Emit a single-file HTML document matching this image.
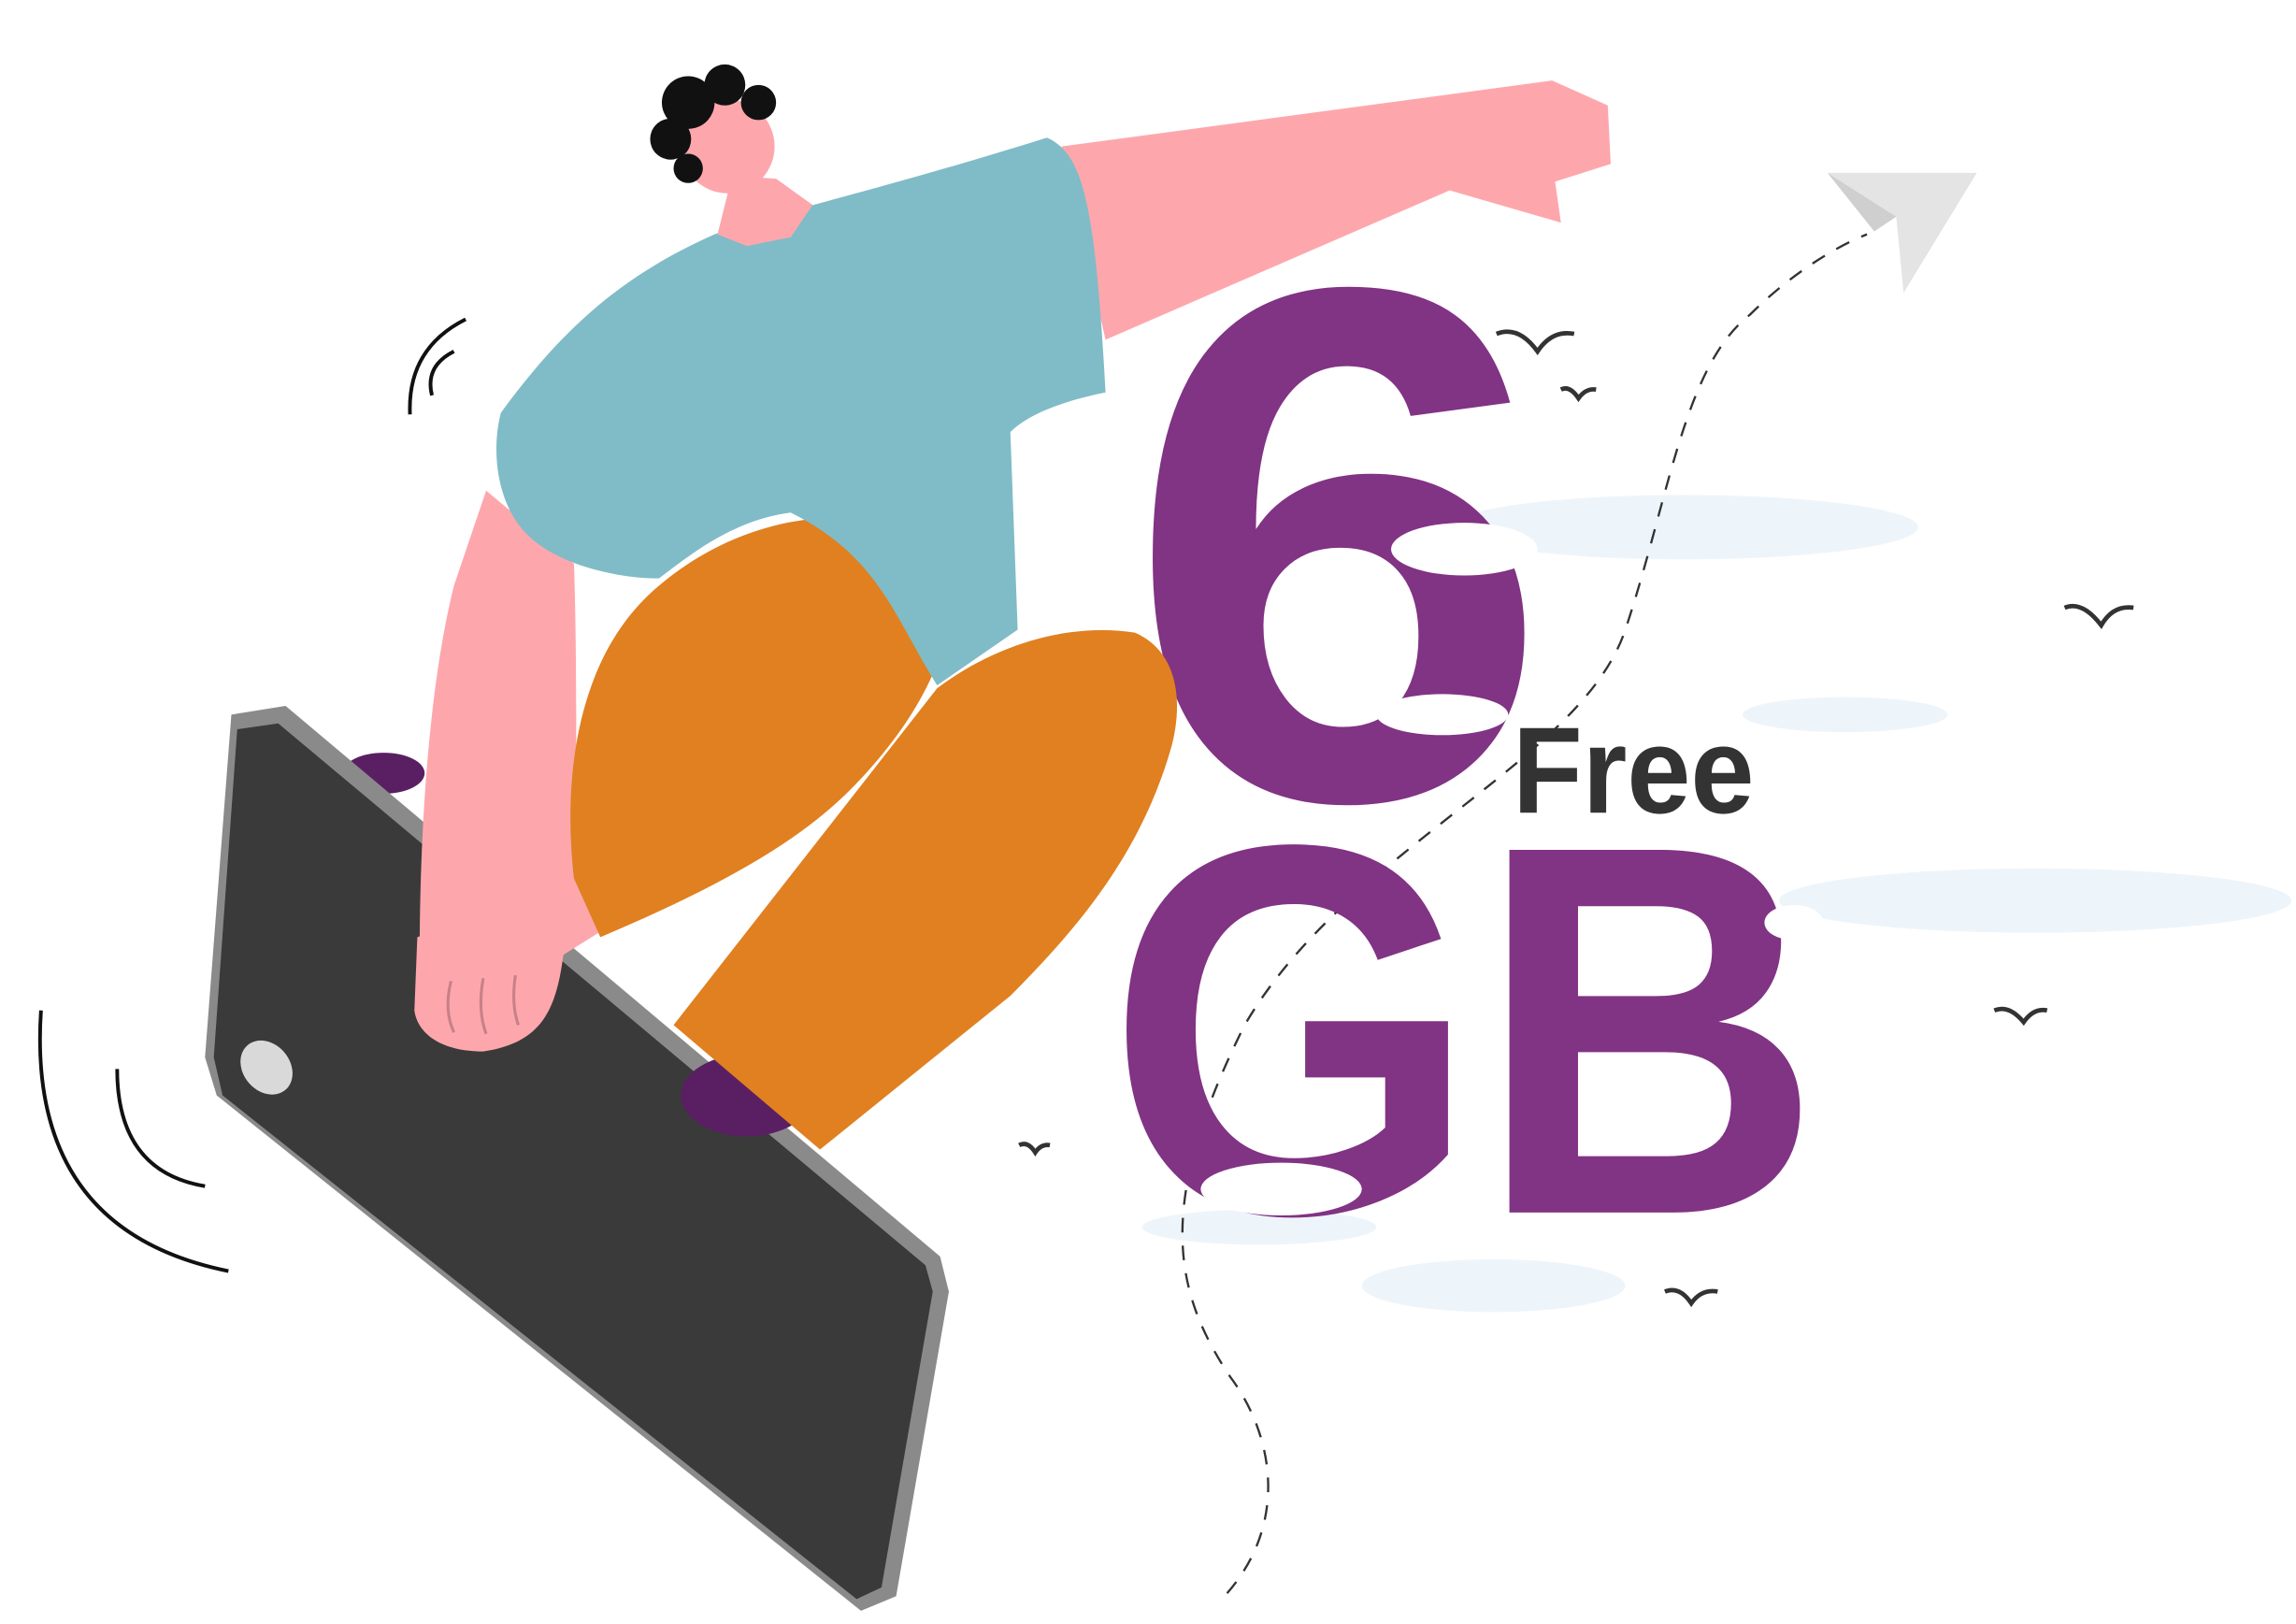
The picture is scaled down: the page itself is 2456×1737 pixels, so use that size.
<!DOCTYPE html>
<html><head><meta charset="utf-8"><style>
html,body{margin:0;padding:0;background:#fff;}
svg{display:block;}
</style></head><body>
<svg width="2456" height="1737" viewBox="0 0 1568 1109" preserveAspectRatio="none" xmlns="http://www.w3.org/2000/svg">
<g fill="#eef5fa">
<ellipse cx="1150" cy="360" rx="160" ry="22"/>
<ellipse cx="1260" cy="488" rx="70" ry="12"/>
<ellipse cx="1390" cy="615" rx="175" ry="22"/>
<ellipse cx="1020" cy="878" rx="90" ry="18"/>
<ellipse cx="860" cy="838" rx="80" ry="12"/>
</g>
<path d="M838,1088 C880,1040 870,980 840,940 C800,880 790,820 850,700 C920,580 1080,520 1110,430 C1140,340 1150,250 1195,215 C1220,190 1250,170 1275,160" fill="none" stroke="#333" stroke-width="1.5" stroke-dasharray="10,9"/>
<g>
<polygon points="1248,118 1350,118 1300,200 1295,148" fill="#e4e4e4"/>
<polygon points="1248,118 1295,148 1280,158" fill="#cfcfcf"/>
</g>
<g fill="none" stroke="#333" stroke-width="3">
<path d="M1022,228 q15,-6 28,12 q10,-15 25,-12"/>
<path d="M1066,266 q6,-3 12,6 q5,-7 12,-6"/>
<path d="M1410,415 q12,-5 25,12 q8,-14 22,-12"/>
<path d="M1362,690 q10,-4 20,8 q7,-10 16,-8"/>
<path d="M1137,882 q10,-4 18,8 q7,-10 18,-8"/>
<path d="M696,782 q6,-3 11,5 q4,-6 10,-5"/>
</g>
<g fill="none" stroke="#111" stroke-width="2.5">
<path d="M318,218 q-40,20 -38,65"/>
<path d="M310,240 q-20,10 -15,30"/>
<path d="M28,690 q-10,150 128,178"/>
<path d="M80,730 q0,70 60,80"/>
</g>
<text x="768" y="545" font-family="Liberation Sans, sans-serif" font-weight="bold" font-size="500" fill="#813384" textLength="292" lengthAdjust="spacingAndGlyphs">6</text>
<text x="756" y="828" font-family="Liberation Sans, sans-serif" font-weight="bold" font-size="360" fill="#813384" textLength="488" lengthAdjust="spacingAndGlyphs">GB</text>
<text x="1033" y="555" font-family="Liberation Sans, sans-serif" font-weight="bold" font-size="84" fill="#333" textLength="165" lengthAdjust="spacingAndGlyphs">Free</text>
<g fill="#fff">
<ellipse cx="1000" cy="375" rx="50" ry="18"/>
<ellipse cx="985" cy="488" rx="45" ry="14"/>
<ellipse cx="875" cy="812" rx="55" ry="18"/>
<ellipse cx="1225" cy="630" rx="20" ry="12"/>
</g>
<ellipse cx="262" cy="528" rx="28" ry="14" fill="#5a1f63"/>
<g>
<polygon points="158,488 195,482 642,858 648,882 612,1090 588,1100 148,748 140,722" fill="#8a8a8a"/>
<polygon points="162,498 190,494 632,864 637,882 602,1084 585,1092 152,748 146,722" fill="#3a3a3a"/>
<ellipse cx="182" cy="729" rx="16" ry="20" fill="#d9d9d9" transform="rotate(-40 182 729)"/>
</g>
<polygon points="725,100 1060,55 1098,72 1100,112 1062,124 1066,152 990,130 755,232" fill="#fda7ad"/>
<ellipse cx="510" cy="748" rx="45" ry="28" fill="#5a1f63"/>
<path d="M640,470 C680,440 730,425 775,432 C805,445 808,480 800,510 C780,580 740,630 690,680 L560,785 L460,700 Z" fill="#e08020"/>
<path d="M332,335 L392,385 C395,480 392,560 395,590 C405,605 415,620 412,635 L372,660 L298,700 L287,690 C285,600 290,480 310,400 Z" fill="#fda7ad"/>
<path d="M450,400 C520,340 620,340 645,390 C660,440 620,500 580,540 C540,580 480,610 410,640 L392,600 C385,540 390,450 450,400 Z" fill="#e08020"/>
<path d="M342,282 C380,230 420,190 488,160 C530,145 600,130 715,94 C740,105 748,140 755,268 C720,275 700,285 690,295 L695,430 L640,468 C610,420 600,380 540,350 C500,355 470,380 450,395 C420,395 380,385 360,365 C340,345 335,310 342,282 Z" fill="#7fbcc7"/>
<polygon points="490,160 500,120 530,122 555,140 540,162 510,168" fill="#fda7ad"/>
<circle cx="497" cy="100" r="32" fill="#fda7ad"/>
<g fill="#111">
<circle cx="470" cy="70" r="18"/><circle cx="495" cy="58" r="14"/><circle cx="518" cy="70" r="12"/><circle cx="458" cy="95" r="14"/><circle cx="470" cy="115" r="10"/>
</g>
<path d="M285,640 C310,630 360,630 385,650 C380,690 370,712 330,718 C300,718 285,705 283,690 Z" fill="#fda7ad"/>
<g fill="none" stroke="#c98088" stroke-width="2">
<path d="M308,670 q-5,20 2,35"/><path d="M330,668 q-4,22 2,38"/><path d="M352,666 q-3,20 2,34"/>
</g>
</svg>
</body></html>
